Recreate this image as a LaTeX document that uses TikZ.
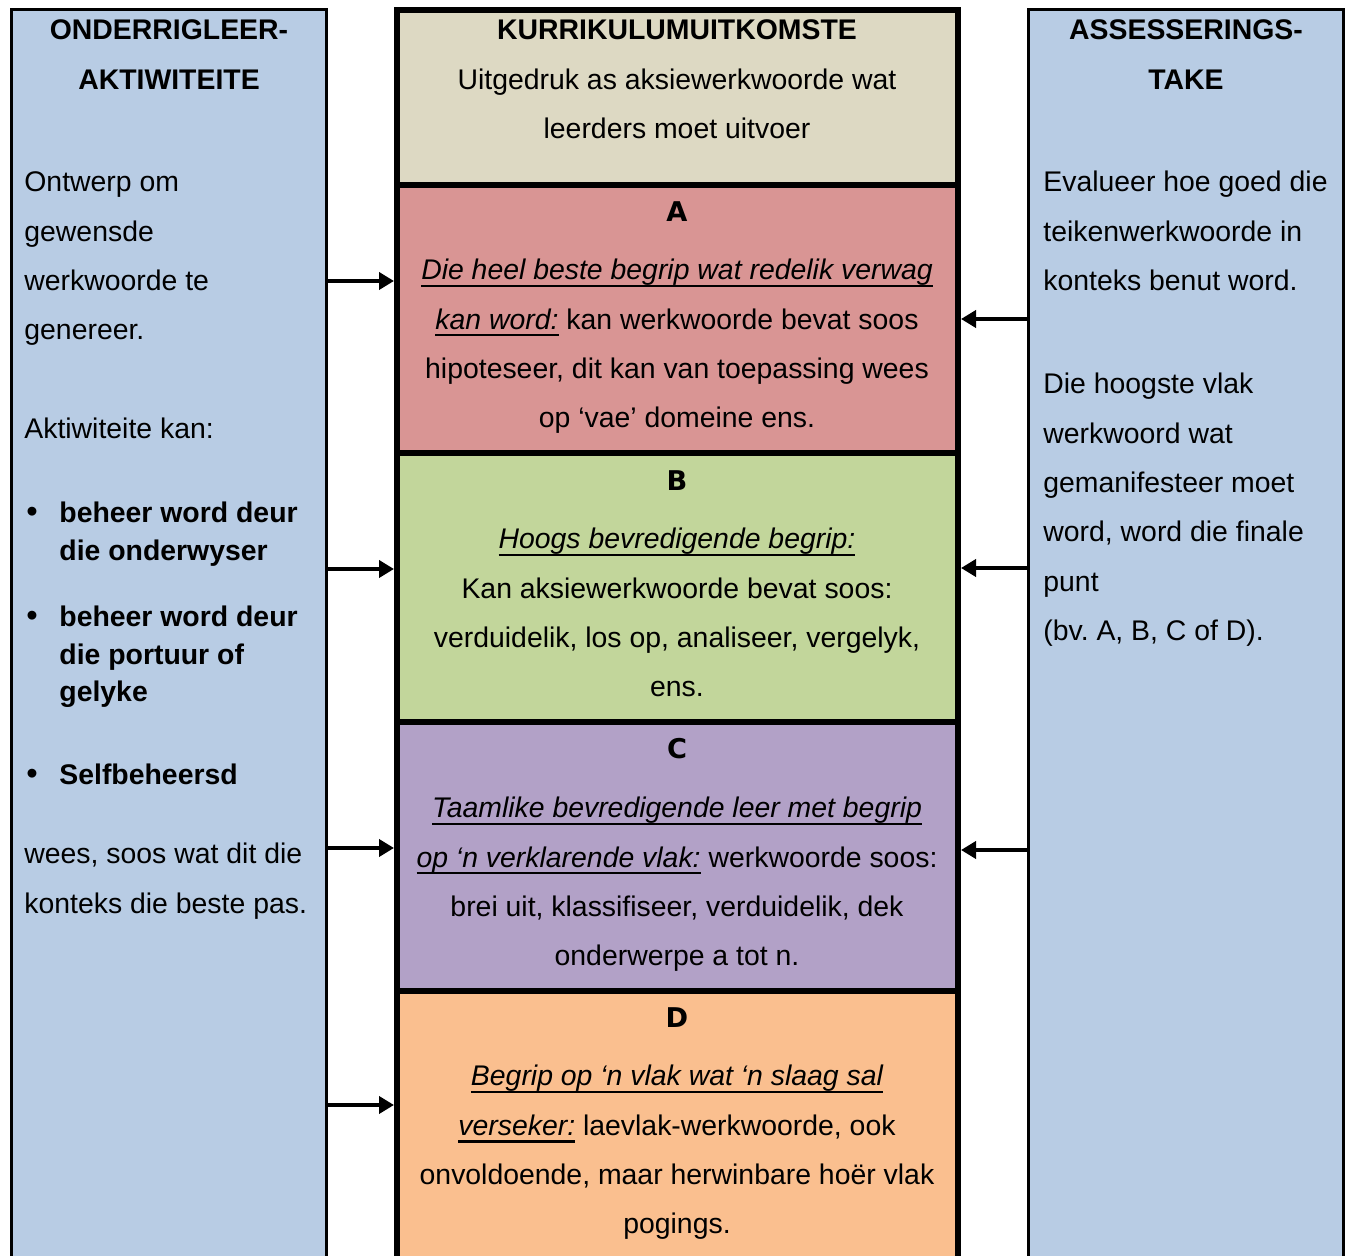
\documentclass[tikz,border=0pt]{standalone}
\usepackage{fontspec}
\setmainfont{Liberation Sans}
\newfontfamily\heavyfont{DejaVu Sans}[UprightFont={* Bold}]
\usetikzlibrary{arrows.meta}

\definecolor{sideblue}{HTML}{B8CCE4}
\definecolor{hdrtan}{HTML}{DDD9C3}
\definecolor{rowa}{HTML}{D99594}
\definecolor{rowb}{HTML}{C2D69B}
\definecolor{rowc}{HTML}{B2A1C7}
\definecolor{rowd}{HTML}{FABF8F}

% italic, underlined lead-in phrase
\newcommand\ulit[1]{\setbox0\hbox{\itshape #1}\rlap{\rule[-3.6pt]{\wd0}{1.3pt}}\box0}

% a run of lines: #1 name prefix, #2 anchor, #3 x, #4 first baseline, #5 step, #6 lines
\newcommand\textlines[6]{%
  \foreach \linetext [count=\k] in {#6}
    {\node[txt,anchor=#2] (#1\k) at (#3,{#4+#5*(\k-1)}) {\linetext};}}

\begin{document}
\begin{tikzpicture}[x=0.5pt,y=-0.5pt,
  txt/.style={inner sep=0pt,font=\fontsize{14.2}{17}\selectfont},
  grade/.style={inner sep=0pt,font=\fontsize{13.6}{17}\heavyfont},
  sidebox/.style={draw=black,line width=1.5pt,fill=sideblue,minimum width=157.5pt,
    minimum height=645.25pt,inner sep=0pt},
  rowbox/.style={draw=black,line width=3pt,minimum width=280.5pt,inner sep=0pt},
  conn/.style={line width=2pt,-{Triangle[length=7.5pt,width=8.5pt]}}]
\useasboundingbox (0,0) rectangle (1351,1256);
\clip (0,0) rectangle (1351,1256);

% the three columns
\node[sidebox] (left)  at (169,654.75)  {};
\node[sidebox] (right) at (1186,654.75) {};
\node[rowbox,fill=hdrtan,minimum height=87.5pt]  (hdr)  at (677.5,97.5)   {};
\node[rowbox,fill=rowa,minimum height=134pt]     (rowA) at (677.5,319)    {};
\node[rowbox,fill=rowb,minimum height=134.5pt]   (rowB) at (677.5,587.5)  {};
\node[rowbox,fill=rowc,minimum height=134.5pt]   (rowC) at (677.5,856.5)  {};
\node[rowbox,fill=rowd,minimum height=154.5pt]   (rowD) at (677.5,1145.5) {};

% left column: teaching and learning activities
\textlines{lh}{base}{169}{40}{49.3}{\textbf{ONDERRIGLEER-},\textbf{AKTIWITEITE}}
\textlines{la}{base west}{24}{192}{49.3}{Ontwerp om,gewensde,werkwoorde te,genereer.,,Aktiwiteite kan:}
\node[txt,anchor=base,scale=1.15] (bul1) at (32,523) {•};
\node[txt,anchor=base,scale=1.15] (bul2) at (32,627) {•};
\node[txt,anchor=base,scale=1.15] (bul3) at (32,785) {•};
\textlines{lb}{base west}{59}{523}{38}{\textbf{beheer word deur},\textbf{die onderwyser}}
\textlines{lc}{base west}{59}{627}{37.5}{\textbf{beheer word deur},\textbf{die portuur of},\textbf{gelyke}}
\node[txt,anchor=base west] (ld1) at (59,785) {\textbf{Selfbeheersd}};
\textlines{le}{base west}{24}{864}{49.3}{{wees, soos wat dit die},konteks die beste pas.}

% right column: assessment tasks
\textlines{rh}{base}{1186}{40}{49.3}{\textbf{ASSESSERINGS-},\textbf{TAKE}}
\textlines{ra}{base west}{1043}{192}{49.3}{Evalueer hoe goed die,teikenwerkwoorde in,konteks benut word.}
\textlines{rb}{base west}{1043}{394}{49.3}{Die hoogste vlak,werkwoord wat,gemanifesteer moet,{word, word die finale},punt,{(bv.\ A, B, C of D).}}

% centre column: curriculum outcomes
\textlines{ch}{base}{677}{40}{49.5}{\textbf{KURRIKULUMUITKOMSTE},Uitgedruk as aksiewerkwoorde wat,leerders moet uitvoer}
\node[grade,anchor=base] (tA) at (677,222)  {A};
\node[grade,anchor=base] (tB) at (677,491)  {B};
\node[grade,anchor=base] (tC) at (677,759)  {C};
\node[grade,anchor=base] (tD) at (677,1028) {D};
\textlines{ca}{base}{677}{280}{49.3}{\ulit{Die heel beste begrip wat redelik verwag},{\ulit{kan word:}\ kan werkwoorde bevat soos},{hipoteseer, dit kan van toepassing wees},op ‘vae’ domeine ens.}
\textlines{cb}{base}{677}{549}{49.3}{\ulit{Hoogs bevredigende begrip:},Kan aksiewerkwoorde bevat soos:,{verduidelik, los op, analiseer, vergelyk,},ens.}
\textlines{cc}{base}{677}{818}{49.3}{\ulit{Taamlike bevredigende leer met begrip},{\ulit{op ‘n verklarende vlak:}\ werkwoorde soos:},{brei uit, klassifiseer, verduidelik, dek},onderwerpe a tot n.}
\textlines{cd}{base}{677}{1086}{49.3}{\ulit{Begrip op ‘n vlak wat ‘n slaag sal},{\ulit{verseker:}\ laevlak-werkwoorde, ook},{onvoldoende, maar herwinbare hoër vlak},pogings.}

% connector levels
\coordinate (la1y) at (0,281);
\coordinate (la2y) at (0,569);
\coordinate (la3y) at (0,848);
\coordinate (la4y) at (0,1105);
\coordinate (ra1y) at (0,319);
\coordinate (ra2y) at (0,568);
\coordinate (ra3y) at (0,850);

\draw[conn] (left.east |- la1y) -- (rowA.west |- la1y);
\draw[conn] (left.east |- la2y) -- (rowB.west |- la2y);
\draw[conn] (left.east |- la3y) -- (rowC.west |- la3y);
\draw[conn] (left.east |- la4y) -- (rowD.west |- la4y);
\draw[conn] (right.west |- ra1y) -- (rowA.east |- ra1y);
\draw[conn] (right.west |- ra2y) -- (rowB.east |- ra2y);
\draw[conn] (right.west |- ra3y) -- (rowC.east |- ra3y);
\end{tikzpicture}
\end{document}
